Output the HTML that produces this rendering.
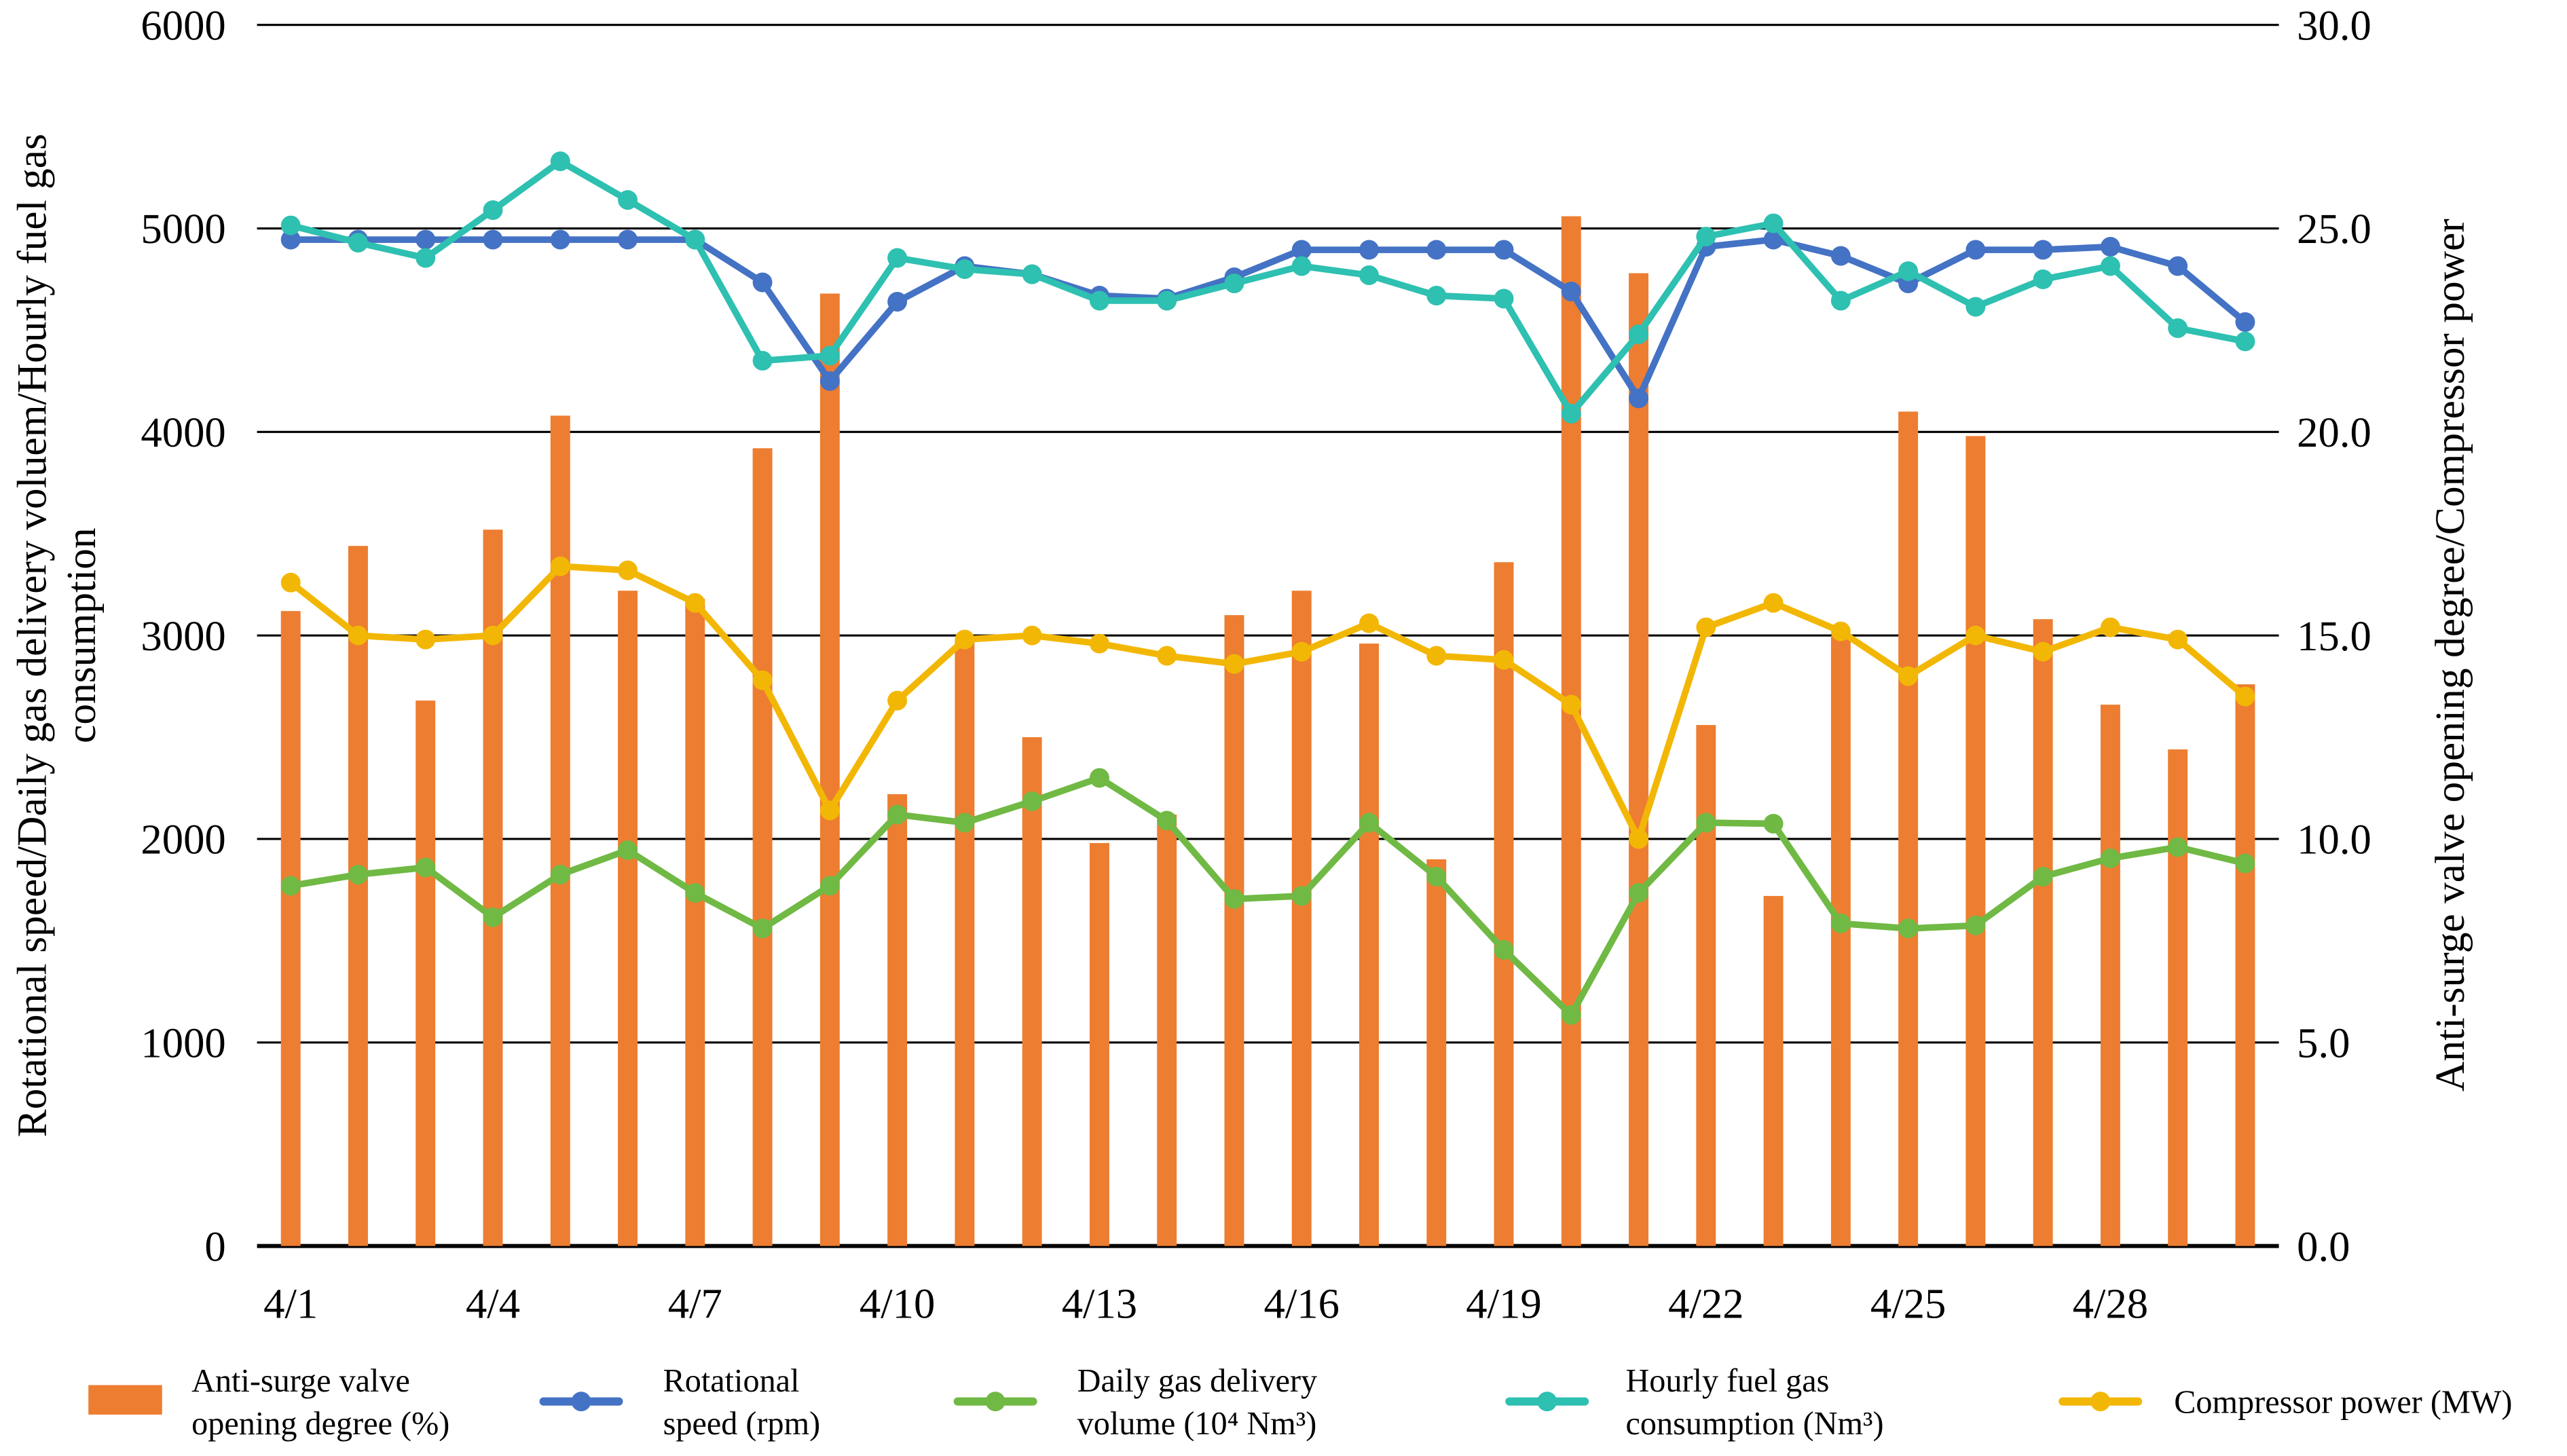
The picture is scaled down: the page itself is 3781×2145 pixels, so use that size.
<!DOCTYPE html>
<html><head><meta charset="utf-8"><style>
html,body{margin:0;padding:0;background:#fff;}
svg, svg text{font-family:"Liberation Serif","Times New Roman",serif;}
</style></head><body>
<svg id="chart" width="3781" height="2140" viewBox="0 0 1568 887" xmlns="http://www.w3.org/2000/svg" font-family="Liberation Serif, serif">
<g id="grid"></g>
<g id="bars"></g>
<g id="lines"></g>
<g id="axes"></g>
<text transform="translate(28,388) rotate(-90)" text-anchor="middle" font-size="25.5">Rotational speed/Daily gas delivery voluem/Hourly fuel gas</text>
<text transform="translate(58,388) rotate(-90)" text-anchor="middle" font-size="25.5">consumption</text>
<text transform="translate(1505,400) rotate(-90)" text-anchor="middle" font-size="25.5">Anti-surge valve opening degree/Compressor power</text>
<g font-size="20">
 <g>
  <rect x="54" y="846" width="45" height="18" fill="#ED7D31"/>
  <text x="117" y="850">Anti-surge valve</text><text x="117" y="876">opening degree (%)</text>
 </g>
 <g>
  <line x1="332" y1="856" x2="378" y2="856" stroke="#4472C4" stroke-width="5" stroke-linecap="round"/><circle cx="355" cy="856" r="6" fill="#4472C4"/>
  <text x="405" y="850">Rotational</text><text x="405" y="876">speed (rpm)</text>
 </g>
 <g>
  <line x1="585" y1="856" x2="631" y2="856" stroke="#70B944" stroke-width="5" stroke-linecap="round"/><circle cx="608" cy="856" r="6" fill="#70B944"/>
  <text x="658" y="850">Daily gas delivery</text><text x="658" y="876">volume (10⁴ Nm³)</text>
 </g>
 <g>
  <line x1="922" y1="856" x2="968" y2="856" stroke="#2EC0B1" stroke-width="5" stroke-linecap="round"/><circle cx="945" cy="856" r="6" fill="#2EC0B1"/>
  <text x="993" y="850">Hourly fuel gas</text><text x="993" y="876">consumption (Nm³)</text>
 </g>
 <g>
  <line x1="1260" y1="856" x2="1306" y2="856" stroke="#F2B705" stroke-width="5" stroke-linecap="round"/><circle cx="1283" cy="856" r="6" fill="#F2B705"/>
  <text x="1328" y="863">Compressor power (MW)</text>
 </g>
</g>
</svg>
<script>
const categories = ["4/1","4/2","4/3","4/4","4/5","4/6","4/7","4/8","4/9","4/10","4/11","4/12","4/13","4/14","4/15","4/16","4/17","4/18","4/19","4/20","4/21","4/22","4/23","4/24","4/25","4/26","4/27","4/28","4/29","4/30"];
const valveOpening = [15.6,17.2,13.4,17.6,20.4,16.1,15.9,19.6,23.4,11.1,14.9,12.5,9.9,10.6,15.5,16.1,14.8,9.5,16.8,25.3,23.9,12.8,8.6,15.0,20.5,19.9,15.4,13.3,12.2,13.8];
const rotationalSpeed = [4945,4945,4945,4945,4945,4945,4945,4735,4250,4640,4815,4775,4670,4655,4760,4895,4895,4895,4895,4690,4165,4910,4945,4865,4730,4895,4895,4910,4815,4540];
const dailyGas = [1770,1825,1860,1615,1825,1945,1735,1560,1770,2120,2080,2185,2300,2090,1705,1720,2080,1815,1455,1135,1735,2080,2075,1585,1560,1575,1815,1905,1960,1880];
const fuelGas = [5015,4930,4855,5090,5330,5140,4945,4350,4375,4855,4800,4775,4645,4645,4730,4815,4770,4670,4655,4090,4480,4960,5025,4645,4790,4615,4750,4815,4510,4445];
const compressorPower = [16.3,15.0,14.9,15.0,16.7,16.6,15.8,13.9,10.7,13.4,14.9,15.0,14.8,14.5,14.3,14.6,15.3,14.5,14.4,13.3,10.0,15.2,15.8,15.1,14.0,15.0,14.6,15.2,14.9,13.5];
const leftTicks = [0,1000,2000,3000,4000,5000,6000];
const rightTicks = ["0.0","5.0","10.0","15.0","20.0","25.0","30.0"];
const xLabelEvery = 3;

const NS="http://www.w3.org/2000/svg";
const L=157,R=1392,T=15,B=761;
const band=(R-L)/categories.length;
const xC=i=>L+band*(i+0.5);
const yL=v=>B-(v/6000)*(B-T);
const yR=v=>B-(v/30)*(B-T);
function mk(tag,attrs,parent){const e=document.createElementNS(NS,tag);for(const k in attrs)e.setAttribute(k,attrs[k]);parent.appendChild(e);return e;}
const grid=document.getElementById('grid'),bars=document.getElementById('bars'),lines=document.getElementById('lines'),axes=document.getElementById('axes');

leftTicks.forEach((v,i)=>{
  const y=yL(v);
  const g=mk('line',{x1:L,x2:R,y1:y,y2:y,stroke:'#000','stroke-width':i===0?2.5:1.3},grid);
  
  
  const t=mk('text',{x:138,y:y+9,'text-anchor':'end','font-size':26},axes);
  t.textContent=v;
  
  
  const r=mk('text',{x:1403,y:y+9,'font-size':26},axes);
  r.textContent=rightTicks[i];
  
  
});
categories.forEach((c,i)=>{
  if(i%xLabelEvery===0){
    const t=mk('text',{x:xC(i),y:805,'text-anchor':'middle','font-size':26},axes);
    t.textContent=c;
    
    
  }
  const y=yR(valveOpening[i]);
  const b=mk('rect',{x:xC(i)-6,y:y,width:12,height:B-y,fill:'#ED7D31'},bars);
  
  
});
function series(vals,yf,color,name){
  const g=mk('g',{},lines);
  
  
  const pl=mk('polyline',{points:vals.map((v,i)=>xC(i)+','+yf(v)).join(' '),fill:'none',stroke:color,'stroke-width':4,'stroke-linejoin':'round'},g);
  
  
  vals.forEach((v,i)=>{
    const c=mk('circle',{cx:xC(i),cy:yf(v),r:6,fill:color},g);
    
    
  });
}
series(compressorPower,yR,'#F2B705','compressor-power-series');
series(dailyGas,yL,'#70B944','daily-gas-series');
series(rotationalSpeed,yL,'#4472C4','rotational-speed-series');
series(fuelGas,yL,'#2EC0B1','fuel-gas-series');
</script>
</body></html>
